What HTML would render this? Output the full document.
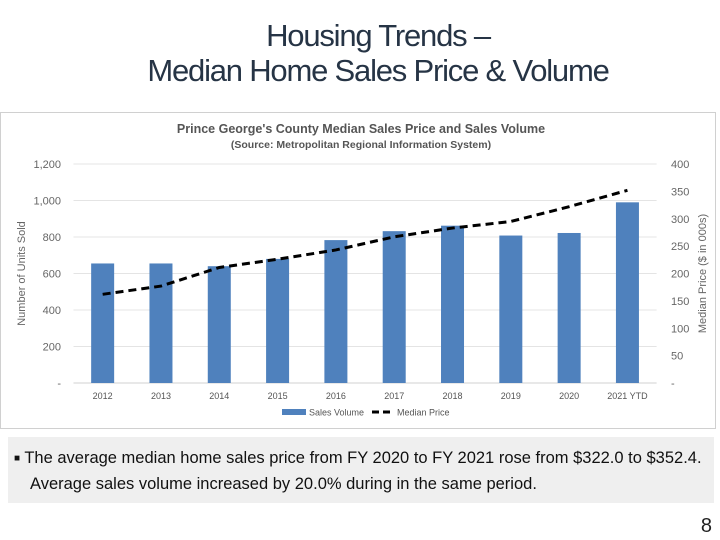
<!DOCTYPE html>
<html><head><meta charset="utf-8"><style>
html,body{margin:0;padding:0;background:#fff;}
body{width:720px;height:540px;position:relative;overflow:hidden;font-family:"Liberation Sans Narrow","Liberation Sans",sans-serif;}
.title{position:absolute;left:0;width:756px;text-align:center;color:#263445;font-size:31px;letter-spacing:-1.2px;font-family:"Liberation Sans Narrow","Liberation Sans",sans-serif;}
#chart-box{position:absolute;left:0;top:112px;width:714px;height:315px;border:1px solid #d0d0d0;background:#fff;}
#note{position:absolute;left:8px;top:437px;width:706px;height:66px;background:#efefef;font-family:"Liberation Sans Narrow","Liberation Sans",sans-serif;font-size:16.5px;color:#111;}
#page-num{position:absolute;right:8px;top:515px;font-size:20px;color:#222;}
</style></head><body>
<div class="title" style="top:18px;">Housing Trends –</div>
<div class="title" style="top:53px;">Median Home Sales Price &amp; Volume</div>
<div id="chart-box">
<svg id="chart" width="714" height="315" style="position:absolute;left:0;top:0;font-family:'Liberation Sans Narrow','Liberation Sans',sans-serif;"></svg>
</div>
<div id="note">
<div style="position:absolute;left:6px;top:12px;"><span style="font-size:10px;vertical-align:2px;">■</span> The average median home sales price from FY 2020 to FY 2021 rose from $322.0 to $352.4.</div>
<div style="position:absolute;left:22px;top:38px;">Average sales volume increased by 20.0% during in the same period.</div>
</div>
<div id="page-num">8</div>
<script>
const categories=["2012","2013","2014","2015","2016","2017","2018","2019","2020","2021 YTD"];
const salesVolume=[655,655,640,680,783,832,862,808,822,990];
const medianPrice=[162,177,211,226,243,267,283,295,322,352];
const leftTicks=["-","200","400","600","800","1,000","1,200"];
const rightTicks=["-","50","100","150","200","250","300","350","400"];
const NS="http://www.w3.org/2000/svg";
const svg=document.getElementById('chart');
const OX=0,OY=112;
const x0=72.5,x1=655.6,yTop=163-OY,yBot=382-OY;
const band=(x1-x0)/categories.length;
const xC=i=>x0+band*(i+0.5);
const yL=v=>yBot-(v/1200)*(yBot-yTop);
const yR=v=>yBot-(v/400)*(yBot-yTop);
function mk(t,a){const e=document.createElementNS(NS,t);for(const k in a)e.setAttribute(k,a[k]);svg.appendChild(e);return e;}
let t=mk('text',{x:360,y:20,'text-anchor':'middle','font-size':'12.5','font-weight':'bold',fill:'#555'});t.textContent="Prince George's County Median Sales Price and Sales Volume";

t=mk('text',{x:360,y:35,'text-anchor':'middle','font-size':'10.5','font-weight':'bold',fill:'#555'});t.textContent="(Source: Metropolitan Regional Information System)";

leftTicks.forEach((lab,i)=>{const y=yBot-i*(yBot-yTop)/6;
 const g=mk('line',{x1:x0,x2:x1,y1:y,y2:y,stroke:i==0?'#d0d0d0':'#e4e4e4','stroke-width':1});
 
 const tx=mk('text',{x:60,y:y+4,'text-anchor':'end','font-size':'11',fill:'#666'});tx.textContent=lab;
 });
rightTicks.forEach((lab,i)=>{const y=yBot-i*(yBot-yTop)/8;
 const tx=mk('text',{x:670,y:y+4,'text-anchor':'start','font-size':'11',fill:'#666'});tx.textContent=lab;
 });
salesVolume.forEach((v,i)=>{const r=mk('rect',{x:xC(i)-11.5,y:yL(v),width:23,height:yBot-yL(v),fill:'#4f81bd'});
 
 const tx=mk('text',{x:xC(i),y:yBot+16,'text-anchor':'middle','font-size':'9',fill:'#555'});tx.textContent=categories[i];
 });
const pl=mk('polyline',{points:medianPrice.map((v,i)=>xC(i)+','+yR(v)).join(' '),fill:'none',stroke:'#000','stroke-width':3,'stroke-dasharray':'8,5'});

let ya=mk('text',{x:0,y:0,transform:'translate(24,'+((yTop+yBot)/2)+') rotate(-90)','text-anchor':'middle','font-size':'11',fill:'#666','font-family':'Liberation Sans'});ya.textContent='Number of Units Sold';

ya=mk('text',{x:0,y:0,transform:'translate(705,'+((yTop+yBot)/2)+') rotate(-90)','text-anchor':'middle','font-size':'11',fill:'#666','font-family':'Liberation Sans'});ya.textContent='Median Price ($ in 000s)';

let lg=mk('rect',{x:281,y:296,width:24,height:6,fill:'#4f81bd'});
t=mk('text',{x:308,y:302.5,'font-size':'9',fill:'#555'});t.textContent='Sales Volume';
lg=mk('line',{x1:371,x2:393,y1:299,y2:299,stroke:'#000','stroke-width':3,'stroke-dasharray':'7,4'});
t=mk('text',{x:396,y:302.5,'font-size':'9',fill:'#555'});t.textContent='Median Price';
</script>
</body></html>
